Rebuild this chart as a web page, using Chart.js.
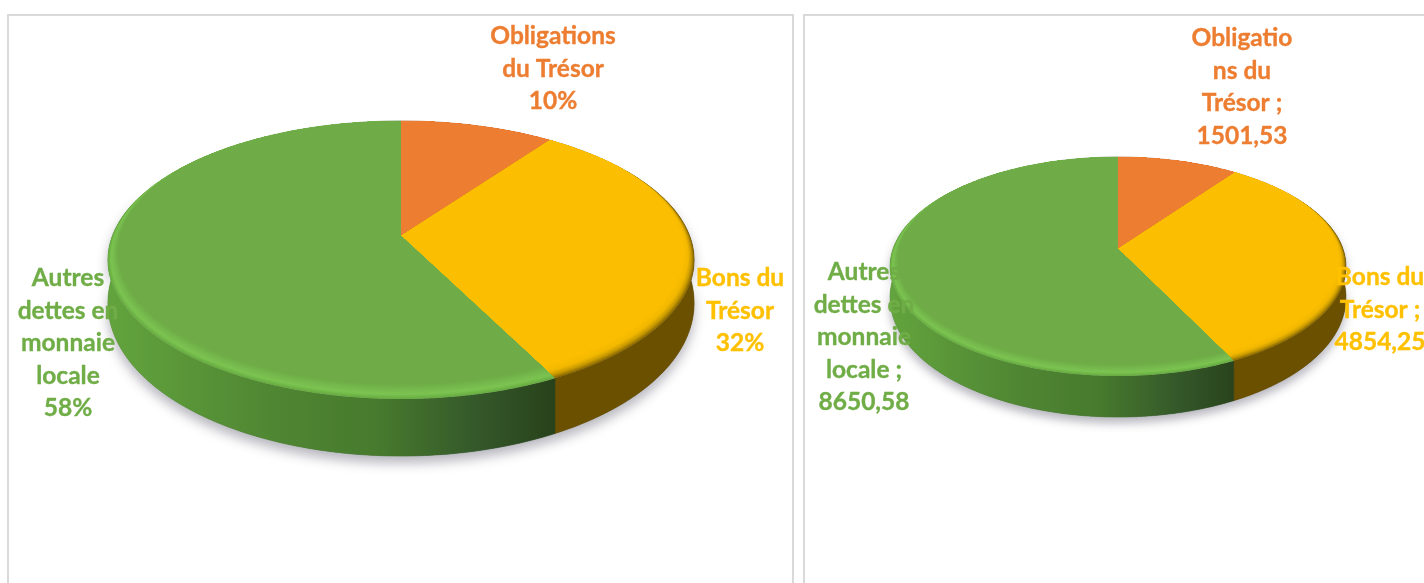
<!DOCTYPE html>
<html><head><meta charset="utf-8">
<script src="https://cdn.jsdelivr.net/npm/chart.js@4"></script>
<style>
html,body{margin:0;padding:0;background:#fff;width:1424px;height:583px;overflow:hidden}
.frame{position:absolute;top:14px;height:600px;border:2px solid #d9d9d9;box-sizing:border-box}
canvas{position:absolute;top:0}
</style></head><body>
<div class="frame" style="left:7px;width:787px"></div>
<div class="frame" style="left:803px;width:700px"></div>
<canvas id="c1" width="800" height="583" style="left:0"></canvas>
<canvas id="c2" width="624" height="583" style="left:800px"></canvas>
<script>
const categories = ['Obligations du Trésor', 'Bons du Trésor', 'Autres dettes en monnaie locale'];
const shareValues = [10, 32, 58];
const amountValues = [1501.53, 4854.25, 8650.58];
const sliceColors = ['#ED7D31', '#FFC000', '#70AD47'];
const labelColors = ['#ED7D31', '#FFC000', '#70AD47'];
const shareLabels = [['Obligations', 'du Trésor', '10%'], ['Bons du', 'Trésor', '32%'], ['Autres', 'dettes en', 'monnaie', 'locale', '58%']];
const amountLabels = [['Obligatio', 'ns du', 'Trésor ;', '1501,53'], ['Bons du', 'Trésor ;', '4854,25'], ['Autres', 'dettes en', 'monnaie', 'locale ;', '8650,58']];

const bevelStops = [
  [[0, '#c9661f'], [1, '#ED7D31']],
  [[0, '#8a6800'], [0.25, '#c89a00'], [0.55, '#f2b800'], [1, '#FBBE00']],
  [[0, '#68ac42'], [0.3, '#7cc452'], [1, '#6FAC47']]
];
function hex(c){return [1,3,5].map(i=>parseInt(c.substr(i,2),16));}
function stopColor(st,t){
  for(let i=1;i<st.length;i++){ if(t<=st[i][0]){
    const a=hex(st[i-1][1]),b=hex(st[i][1]),k=(t-st[i-1][0])/(st[i][0]-st[i-1][0]);
    return 'rgb('+a.map((v,j)=>Math.round(v+(b[j]-v)*k)).join(',')+')';
  }}
  return st[st.length-1][1];
}
const pie3d = {
  id:'pie3d',
  beforeDatasetsDraw(chart,args,o){
    const ctx=chart.ctx, arcs=chart.getDatasetMeta(0).data;
    const P=(th0,f=1,low=false)=>{ // th measured clockwise from the top of the disc
      // the near half of the disc is foreshortened towards the viewer
      const c=Math.cos(th0);
      const th=th0+(c<0?o.warp*Math.sin(2*(th0-Math.PI/2)):0);
      const u=Math.sin(th)*f, v=Math.cos(th)*f, w=1+o.k*v;
      const dy=low?o.depthSide+(o.depthFront-o.depthSide)*Math.max(0,-v):0;
      return [o.x+o.A*u/w, o.y-o.B*v/w+dy];
    };
    const ang=a=>[a.startAngle+Math.PI/2,a.endAngle+Math.PI/2];
    const steps=(a,b)=>{const n=Math.max(4,Math.ceil((b-a)/0.01)),r=[];for(let i=0;i<=n;i++)r.push(a+(b-a)*i/n);return r;};
    const strip=(a,b)=>{
      const t=steps(a,b); ctx.beginPath();
      t.forEach((th,i)=>{const p=P(th);i?ctx.lineTo(p[0],p[1]):ctx.moveTo(p[0],p[1]);});
      t.slice().reverse().forEach(th=>{const p=P(th,1,true);ctx.lineTo(p[0],p[1]);});
      ctx.closePath();
    };
    // cast shadow
    ctx.save();
    ctx.shadowColor='rgba(70,70,90,0.40)'; ctx.shadowBlur=o.blur; ctx.shadowOffsetY=o.shadowY; ctx.shadowOffsetX=0;
    ctx.fillStyle='#555';
    strip(Math.PI*0.4,Math.PI*1.6); ctx.fill();
    ctx.restore();
    // side walls
    const gr=ctx.createLinearGradient(o.x-o.A,0,o.x+o.A*0.53,0);
    [[0,'#62a33d'],[0.35,'#508733'],[0.6,'#477a2d'],[0.82,'#35592a'],[1,'#28421b']].forEach(s=>gr.addColorStop(s[0],s[1]));
    const sides=['#a8561f','#6b5000',gr];
    arcs.forEach((a,i)=>{const [s,e]=ang(a);strip(s,e);ctx.fillStyle=sides[i];ctx.strokeStyle=sides[i];ctx.lineWidth=0.6;ctx.fill();ctx.stroke();});
    // top faces with bevel
    arcs.forEach((a,i)=>{
      const [s,e]=ang(a), t=steps(s,e);
      const n=16;
      for(let j=0;j<=n;j++){
        const q=j/n;
        ctx.beginPath(); ctx.moveTo(o.x,o.y);
        t.forEach(th=>{
          const v=Math.cos(th), edge=Math.max(0,Math.min(1,(0.55-v)/1.55));
          const p=P(th,1-o.bevel*q*edge); ctx.lineTo(p[0],p[1]);
        });
        ctx.closePath();
        ctx.fillStyle=stopColor(bevelStops[i],q);
        ctx.fill();
      }
    });
    return false;
  },
  afterDraw(chart){
    const o=chart.options.plugins.pie3d, ctx=chart.ctx;
    ctx.save();
    ctx.font=o.font; ctx.textAlign='center'; ctx.textBaseline='middle'; ctx.lineWidth=0.35; ctx.lineJoin='round';
    o.labels.forEach((lines,i)=>{
      ctx.fillStyle=labelColors[i]; ctx.strokeStyle=labelColors[i];
      lines.forEach((s,j)=>{
        const y=o.labelY[i]+j*o.lineH;
        ctx.fillText(s,o.labelX[i],y); ctx.strokeText(s,o.labelX[i],y);
      });
    });
    ctx.restore();
  }
};
function make(id,values,opts){
  return new Chart(document.getElementById(id),{
    type:'pie',
    data:{labels:categories,datasets:[{data:values,backgroundColor:sliceColors,borderWidth:0}]},
    options:{responsive:false,animation:false,events:[],
      plugins:{legend:{display:false},tooltip:{enabled:false},pie3d:opts}},
    plugins:[pie3d]
  });
}
const font='bold 24.5px Lato, Carlito, sans-serif';
make('c1',shareValues,{x:401,y:236,A:288.7,B:134.9,k:0.1726,warp:0.041,depthSide:40,depthFront:57,bevel:0.075,blur:12,shadowY:7,
  font,lineH:32.6,labels:shareLabels,labelX:[553,740,68],labelY:[36,278,278]});
make('c2',amountValues,{x:318,y:249,A:225,B:106.7,k:0.16,warp:0.03,depthSide:29,depthFront:41,bevel:0.075,blur:10,shadowY:6,
  font,lineH:32.6,labels:amountLabels,labelX:[442,580,64],labelY:[38,277,272]});
</script>
</body></html>
